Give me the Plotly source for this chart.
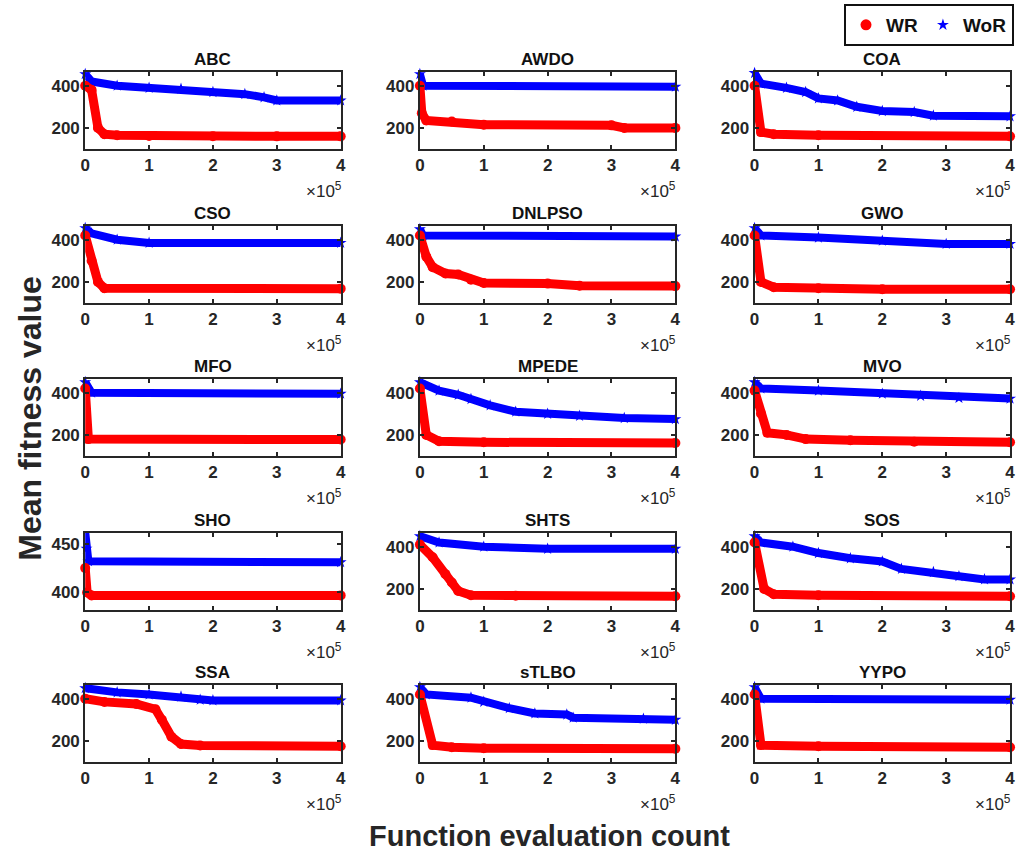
import plotly.graph_objects as go

# ---------------- data (x in function evaluations) ----------------
titles = ["ABC", "AWDO", "COA", "CSO", "DNLPSO", "GWO", "MFO", "MPEDE", "MVO",
          "SHO", "SHTS", "SOS", "SSA", "sTLBO", "YYPO"]

x_tick_vals = [0, 100000, 200000, 300000, 400000]
x_tick_text = ["0", "1", "2", "3", "4"]

abc_wr_x = [0, 10000, 20000, 30000, 50000, 100000, 200000, 300000, 400000]
abc_wr_y = [400, 380, 200, 170, 165, 162, 161, 160, 160]
abc_wor_x = [0, 10000, 50000, 100000, 150000, 200000, 250000, 280000, 300000, 400000]
abc_wor_y = [455, 420, 400, 390, 385, 370, 360, 345, 330, 330]

awdo_wr_x = [0, 3000, 10000, 50000, 100000, 300000, 320000, 400000]
awdo_wr_y = [400, 270, 235, 230, 215, 212, 200, 200]
awdo_wor_x = [0, 5000, 400000]
awdo_wor_y = [455, 400, 395]

coa_wr_x = [0, 10000, 30000, 100000, 400000]
coa_wr_y = [400, 180, 170, 165, 160]
coa_wor_x = [0, 10000, 50000, 80000, 100000, 130000, 160000, 200000, 250000, 280000, 400000]
coa_wor_y = [460, 410, 390, 370, 340, 330, 300, 280, 275, 258, 255]

cso_wr_x = [0, 10000, 20000, 30000, 400000]
cso_wr_y = [420, 300, 200, 170, 168]
cso_wor_x = [0, 10000, 50000, 100000, 400000]
cso_wor_y = [455, 430, 400, 385, 385]

dnlpso_wr_x = [0, 10000, 20000, 40000, 60000, 80000, 100000, 200000, 250000, 400000]
dnlpso_wr_y = [420, 320, 270, 240, 235, 210, 195, 192, 182, 180]
dnlpso_wor_x = [0, 5000, 400000]
dnlpso_wor_y = [450, 420, 415]

gwo_wr_x = [0, 10000, 30000, 100000, 200000, 400000]
gwo_wr_y = [420, 200, 175, 170, 165, 165]
gwo_wor_x = [0, 10000, 100000, 200000, 300000, 400000]
gwo_wor_y = [455, 420, 410, 395, 380, 380]

mfo_wr_x = [0, 5000, 400000]
mfo_wr_y = [420, 180, 178]
mfo_wor_x = [0, 10000, 400000]
mfo_wor_y = [450, 400, 395]

mpede_wr_x = [0, 10000, 30000, 100000, 400000]
mpede_wr_y = [420, 200, 170, 165, 162]
mpede_wor_x = [0, 30000, 60000, 80000, 110000, 150000, 200000, 250000, 320000, 400000]
mpede_wor_y = [450, 410, 390, 370, 340, 310, 300, 290, 280, 275]

mvo_wr_x = [0, 10000, 20000, 50000, 80000, 150000, 250000, 400000]
mvo_wr_y = [410, 300, 210, 200, 180, 175, 168, 165]
mvo_wor_x = [0, 10000, 100000, 200000, 260000, 320000, 400000]
mvo_wor_y = [450, 420, 410, 395, 385, 375, 372]

sho_wr_x = [0, 3000, 10000, 400000]
sho_wr_y = [425, 400, 397, 397]
sho_wor_x = [0, 2000, 5000, 400000]
sho_wor_y = [462, 445, 432, 431]

shts_wr_x = [0, 20000, 40000, 50000, 60000, 80000, 150000, 400000]
shts_wr_y = [410, 350, 270, 230, 190, 170, 168, 165]
shts_wor_x = [0, 30000, 100000, 200000, 400000]
shts_wor_y = [450, 420, 400, 390, 390]

sos_wr_x = [0, 15000, 30000, 100000, 400000]
sos_wr_y = [420, 200, 175, 170, 165]
sos_wor_x = [0, 10000, 60000, 100000, 150000, 200000, 230000, 280000, 320000, 360000, 400000]
sos_wor_y = [450, 420, 400, 370, 345, 330, 295, 280, 260, 245, 245]

ssa_wr_x = [0, 30000, 80000, 110000, 120000, 135000, 150000, 180000, 400000]
ssa_wr_y = [400, 385, 375, 350, 300, 220, 185, 178, 175]
ssa_wor_x = [0, 50000, 100000, 150000, 180000, 200000, 400000]
ssa_wor_y = [450, 430, 420, 410, 395, 392, 392]

stlbo_wr_x = [0, 20000, 50000, 100000, 400000]
stlbo_wr_y = [420, 180, 170, 165, 163]
stlbo_wor_x = [0, 10000, 80000, 100000, 140000, 180000, 230000, 240000, 350000, 400000]
stlbo_wor_y = [455, 420, 405, 385, 355, 330, 325, 310, 305, 300]

yypo_wr_x = [0, 10000, 100000, 400000]
yypo_wr_y = [420, 180, 175, 170]
yypo_wor_x = [0, 10000, 400000]
yypo_wor_y = [455, 400, 395]

wr_series = [(abc_wr_x, abc_wr_y), (awdo_wr_x, awdo_wr_y), (coa_wr_x, coa_wr_y),
             (cso_wr_x, cso_wr_y), (dnlpso_wr_x, dnlpso_wr_y), (gwo_wr_x, gwo_wr_y),
             (mfo_wr_x, mfo_wr_y), (mpede_wr_x, mpede_wr_y), (mvo_wr_x, mvo_wr_y),
             (sho_wr_x, sho_wr_y), (shts_wr_x, shts_wr_y), (sos_wr_x, sos_wr_y),
             (ssa_wr_x, ssa_wr_y), (stlbo_wr_x, stlbo_wr_y), (yypo_wr_x, yypo_wr_y)]
wor_series = [(abc_wor_x, abc_wor_y), (awdo_wor_x, awdo_wor_y), (coa_wor_x, coa_wor_y),
              (cso_wor_x, cso_wor_y), (dnlpso_wor_x, dnlpso_wor_y), (gwo_wor_x, gwo_wor_y),
              (mfo_wor_x, mfo_wor_y), (mpede_wor_x, mpede_wor_y), (mvo_wor_x, mvo_wor_y),
              (sho_wor_x, sho_wor_y), (shts_wor_x, shts_wor_y), (sos_wor_x, sos_wor_y),
              (ssa_wor_x, ssa_wor_y), (stlbo_wor_x, stlbo_wor_y), (yypo_wor_x, yypo_wor_y)]

default_yticks = [200, 400]
sho_yticks = [400, 450]

# ---------------- layout geometry ----------------
W, H = 1019, 856
col_px = [(81, 339), (419, 677), (757, 1015)]
row_top_px = [72, 226, 379, 533, 685]
plot_h = 77

FONT = "Liberation Sans, Arial, Helvetica, sans-serif"
AXC = "#262626"
RED = "#ff0000"
BLUE = "#0000ff"

fig = go.Figure()
layout = dict(
    width=W, height=H, margin=dict(l=0, r=0, t=0, b=0),
    paper_bgcolor="white", plot_bgcolor="white",
    font=dict(family=FONT, color=AXC),
    showlegend=True,
    legend=dict(orientation="h", x=1, xanchor="right", y=1 - 4 / H, yanchor="top",
                bordercolor="#111111", borderwidth=2, bgcolor="white",
                font=dict(family=FONT, size=19, color="#111111", weight="bold"),
                itemwidth=30, tracegroupgap=0, itemsizing="trace"),
)
annotations = []

for i, name in enumerate(titles):
    r, c = divmod(i, 3)
    x0, x1 = col_px[c]
    top = row_top_px[r]
    bot = top + plot_h
    ax = "" if i == 0 else str(i + 1)
    xd = [x0 / W, x1 / W]
    yd = [1 - bot / H, 1 - top / H]
    is_sho = name == "SHO"
    yr = [382, 461] if is_sho else [100, 465]
    yt = sho_yticks if is_sho else default_yticks
    layout["xaxis" + ax] = dict(
        domain=xd, anchor="y" + ax, range=[0, 400000],
        tickvals=x_tick_vals, ticktext=x_tick_text,
        ticks="inside", ticklen=4, tickwidth=1.5, tickcolor=AXC,
        showline=True, linecolor=AXC, linewidth=2, mirror="ticks",
        showgrid=False, zeroline=False,
        tickfont=dict(family=FONT, size=17, color=AXC, weight="bold"),
    )
    layout["yaxis" + ax] = dict(
        domain=yd, anchor="x" + ax, range=yr, tickvals=yt,
        ticks="inside", ticklen=4, tickwidth=1.5, tickcolor=AXC,
        showline=True, linecolor=AXC, linewidth=2, mirror="ticks",
        showgrid=False, zeroline=False,
        tickfont=dict(family=FONT, size=17, color=AXC, weight="bold"),
    )
    wx, wy = wor_series[i]
    rx, ry = wr_series[i]
    fig.add_trace(go.Scatter(
        x=wx, y=wy, mode="lines+markers", xaxis="x" + ax, yaxis="y" + ax,
        line=dict(color=BLUE, width=8), marker=dict(symbol="star", size=9, color=BLUE),
        showlegend=False, cliponaxis=False, hoverinfo="skip"))
    fig.add_trace(go.Scatter(
        x=rx, y=ry, mode="lines+markers", xaxis="x" + ax, yaxis="y" + ax,
        line=dict(color=RED, width=9), marker=dict(symbol="circle", size=10, color=RED),
        showlegend=False, cliponaxis=False, hoverinfo="skip"))
    # subplot title
    annotations.append(dict(
        text="<b>%s</b>" % name, x=(x0 + x1) / 2 / W, y=1 - (top - 1) / H,
        xref="paper", yref="paper", xanchor="center", yanchor="bottom",
        showarrow=False, font=dict(family=FONT, size=17, color="#111111")))
    # x10^5 exponent label
    annotations.append(dict(
        text="\u00d710<sup>5</sup>", x=(x1 + 3) / W, y=1 - (bot + 28) / H,
        xref="paper", yref="paper", xanchor="right", yanchor="top",
        showarrow=False, font=dict(family=FONT, size=17, color=AXC)))

# legend-only traces
fig.add_trace(go.Scatter(x=[None], y=[None], mode="markers", name="WR",
                         marker=dict(symbol="circle", size=11, color=RED)))
fig.add_trace(go.Scatter(x=[None], y=[None], mode="markers", name="WoR",
                         marker=dict(symbol="star", size=9, color=BLUE)))

annotations.append(dict(
    text="<b>Mean fitness value</b>", x=25 / W, y=1 - 418 / H, xref="paper", yref="paper",
    xanchor="center", yanchor="middle", textangle=-90, showarrow=False,
    font=dict(family=FONT, size=32, color="#262626")))
annotations.append(dict(
    text="<b>Function evaluation count</b>", x=550 / W, y=1 - 836 / H, xref="paper", yref="paper",
    xanchor="center", yanchor="middle", showarrow=False,
    font=dict(family=FONT, size=29, color="#262626")))

layout["annotations"] = annotations
fig.update_layout(**layout)
fig.write_html("out.html")
